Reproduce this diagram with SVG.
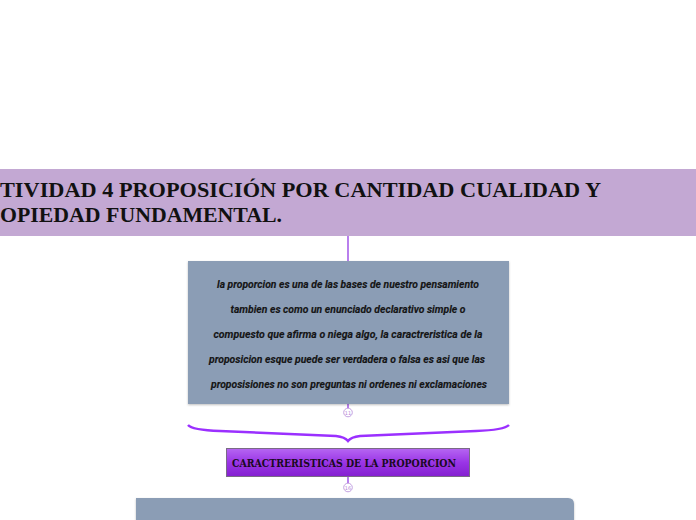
<svg xmlns="http://www.w3.org/2000/svg" width="696" height="520" viewBox="0 0 696 520">
<style>
.title{font-family:"Liberation Serif",serif;font-weight:bold;font-size:22px;fill:#111}
.body{font-family:Roboto,"Liberation Sans",sans-serif;font-style:italic;font-weight:bold;font-size:11.5px;fill:#151515;text-anchor:middle;stroke:#151515;stroke-width:0.15}
.conn{stroke:#8a2be2;stroke-width:1.2;fill:none}
.dot{fill:#fff;stroke:#b58ad8;stroke-width:0.8}
.num{font-family:"DejaVu Sans",sans-serif;font-size:5px;fill:#b58ad8;text-anchor:middle}
.box{fill:#8b9db5}
</style>
<defs>
<linearGradient id="pg" x1="0" y1="0" x2="0" y2="1">
<stop offset="0" stop-color="#b666f2"/>
<stop offset="0.5" stop-color="#9a35e6"/>
<stop offset="1" stop-color="#8420d0"/>
</linearGradient>
<filter id="sh" x="-5%" y="-5%" width="110%" height="115%">
<feDropShadow dx="0" dy="1" stdDeviation="0.8" flood-color="#000" flood-opacity="0.25"/>
</filter>
</defs>
<rect width="696" height="520" fill="#fff"/>
<g id="connectors">
<line class="conn" x1="348" y1="236" x2="348" y2="261"/>
<line class="conn" x1="348" y1="404" x2="348" y2="408"/>
<line class="conn" x1="348" y1="477" x2="348" y2="483"/>
<path d="M188,425 Q192,430 220,431 L336,436 Q345,437 348,441 Q351,437 360,436 L476,431 Q504,430 509,425" stroke="#9b30ff" stroke-width="2.4" fill="none"/>
</g>
<g id="title">
<rect x="0" y="169" width="696" height="67" fill="#c3a8d3"/>
<text class="title" x="0" y="197" textLength="601" lengthAdjust="spacingAndGlyphs">TIVIDAD 4 PROPOSICIÓN POR CANTIDAD CUALIDAD Y</text>
<text class="title" x="0" y="222" textLength="282" lengthAdjust="spacingAndGlyphs">OPIEDAD FUNDAMENTAL.</text>
</g>
<g id="definicion">
<rect class="box" x="188" y="261" width="321" height="143" filter="url(#sh)"/>
<text class="body" x="348" y="288" textLength="262" lengthAdjust="spacingAndGlyphs">la proporcion es una de las bases de nuestro pensamiento</text>
<text class="body" x="348" y="313" textLength="235" lengthAdjust="spacingAndGlyphs">tambien es como un enunciado declarativo simple o</text>
<text class="body" x="348" y="338" textLength="269" lengthAdjust="spacingAndGlyphs">compuesto que afirma o niega algo, la caractreristica de la</text>
<text class="body" x="347" y="363" textLength="276" lengthAdjust="spacingAndGlyphs">proposicion esque puede ser verdadera o falsa es asi que las</text>
<text class="body" x="349" y="388" textLength="276" lengthAdjust="spacingAndGlyphs">proposisiones no son preguntas ni ordenes ni exclamaciones</text>
<circle class="dot" cx="348" cy="412.5" r="4.3"/>
<text class="num" x="348" y="414.5">11</text>
</g>
<g id="caracteristicas">
<rect x="226.5" y="448.5" width="243" height="28" fill="url(#pg)" stroke="#7a6a86" stroke-width="1"/>
<text x="232" y="467" font-family="'DejaVu Serif',serif" font-weight="bold" font-size="10.5px" fill="#1a0a22" textLength="224" lengthAdjust="spacingAndGlyphs">CARACTRERISTICAS DE LA PROPORCION</text>
<circle class="dot" cx="348" cy="487.5" r="4.3"/>
<text class="num" x="348" y="489.5">16</text>
</g>
<g id="siguiente">
<path class="box" d="M136,498 H568 Q574,498 574,504 V520 H136 Z" filter="url(#sh)"/>
</g>
</svg>
